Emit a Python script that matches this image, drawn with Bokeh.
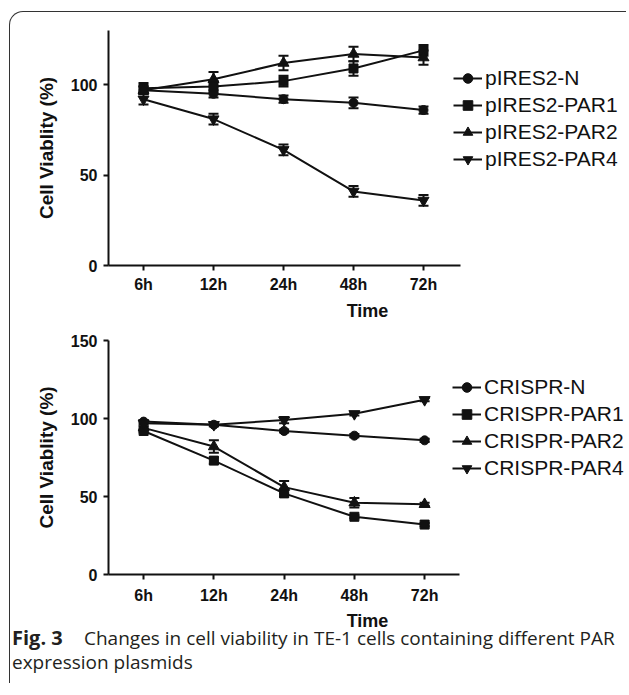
from bokeh.plotting import figure
from bokeh.layouts import column
from bokeh.models import (Range1d, FixedTicker, Whisker, TeeHead, ColumnDataSource,
                          Legend, LegendItem, Div)
from bokeh.embed import file_html
from bokeh.resources import INLINE

# ---------------- data ----------------
times = ["6h", "12h", "24h", "48h", "72h"]
xpos = [1, 2, 3, 4, 5]

pires_labels = ["pIRES2-N", "pIRES2-PAR1", "pIRES2-PAR2", "pIRES2-PAR4"]
pires_n = [97, 95, 92, 90, 86]
pires_par1 = [98, 99, 102, 109, 119]
pires_par2 = [97, 103, 112, 117, 115]
pires_par4 = [92, 81, 64, 41, 36]
pires_n_err = [2, 2, 2, 3, 2]
pires_par1_err = [3, 3, 3, 4, 3]
pires_par2_err = [2, 4, 4, 4, 4]
pires_par4_err = [3, 3, 3, 3, 3]

crispr_labels = ["CRISPR-N", "CRISPR-PAR1", "CRISPR-PAR2", "CRISPR-PAR4"]
crispr_n = [98, 96, 92, 89, 86]
crispr_par1 = [92, 73, 52, 37, 32]
crispr_par2 = [94, 82, 56, 46, 45]
crispr_par4 = [97, 96, 99, 103, 112]
crispr_n_err = [1, 1, 1, 1, 1]
crispr_par1_err = [1, 2, 2, 1, 1]
crispr_par2_err = [1, 4, 4, 3, 1]
crispr_par4_err = [1, 1, 2, 1, 1]

top_yticks = [0, 50, 100]
bottom_yticks = [0, 50, 100, 150]

caption_bold = "Fig. 3"
caption_line1 = "Changes in cell viability in TE-1 cells containing different PAR"
caption_line2 = "expression plasmids"

markers = ["circle", "square", "triangle", "inverted_triangle"]
msizes = [9, 9, 11, 11]
FONT = "Liberation Sans"
INK = "#111111"
W = 616
LEFT = 98


def style_axes(p, yticks, xbound_end, ybound_end, ylabel, xlab_standoff, xtitle_standoff):
    xa = p.xaxis[0]
    ya = p.yaxis[0]
    xa.ticker = FixedTicker(ticks=xpos)
    xa.major_label_overrides = {x: t for x, t in zip(xpos, times)}
    xa.bounds = (0.5, xbound_end)
    xa.axis_label = "Time"
    xa.axis_label_standoff = xtitle_standoff
    xa.major_label_standoff = xlab_standoff
    ya.ticker = FixedTicker(ticks=yticks)
    ya.bounds = (0, ybound_end)
    ya.axis_label = ylabel
    ya.axis_label_standoff = 11
    ya.major_label_standoff = 6
    for ax in (xa, ya):
        ax.axis_line_width = 2
        ax.axis_line_color = INK
        ax.major_tick_line_width = 2
        ax.major_tick_line_color = INK
        ax.major_tick_out = 5
        ax.major_tick_in = 0
        ax.minor_tick_line_color = None
        ax.major_label_text_font = FONT
        ax.major_label_text_font_style = "bold"
        ax.major_label_text_font_size = "16px"
        ax.major_label_text_color = INK
        ax.axis_label_text_font = FONT
        ax.axis_label_text_font_style = "bold"
        ax.axis_label_text_color = INK
    xa.axis_label_text_font_size = "18px"
    ya.axis_label_text_font_size = "19px"
    p.grid.visible = False
    p.outline_line_color = None
    p.background_fill_color = None
    p.border_fill_color = None


def add_series(p, series, errs, labels):
    items = []
    for vals, err, lab, mk, ms in zip(series, errs, labels, markers, msizes):
        src = ColumnDataSource(dict(x=xpos, y=vals,
                                    upper=[v + e for v, e in zip(vals, err)],
                                    lower=[v - e for v, e in zip(vals, err)]))
        p.add_layout(Whisker(source=src, base="x", upper="upper", lower="lower",
                             line_width=2, line_color=INK,
                             upper_head=TeeHead(size=10, line_width=2, line_color=INK),
                             lower_head=TeeHead(size=10, line_width=2, line_color=INK)))
        lr = p.line("x", "y", source=src, line_width=2, line_color=INK)
        sr = p.scatter("x", "y", source=src, marker=mk, size=ms,
                       fill_color=INK, line_color=INK)
        items.append(LegendItem(label=lab, renderers=[lr, sr]))
    return items


def make_legend(items, loc):
    return Legend(items=items, location=loc, label_text_font=FONT,
                  label_text_font_size="21px", label_text_color=INK,
                  glyph_width=29, glyph_height=24, label_height=24,
                  label_standoff=3, spacing=3, padding=0, margin=0,
                  border_line_color=None, background_fill_alpha=0)


# ---------------- top panel ----------------
p1 = figure(width=W, height=312, output_backend="svg", toolbar_location=None,
            x_range=Range1d(0.5, 0.5 + (W - LEFT) / 70.0), y_range=Range1d(0, 130),
            min_border_left=LEFT, min_border_right=0, min_border_top=18,
            min_border_bottom=59)
style_axes(p1, top_yticks, 5.53, 130, "Cell Viablity (%)", 5, 5)
items1 = add_series(p1, [pires_n, pires_par1, pires_par2, pires_par4],
                    [pires_n_err, pires_par1_err, pires_par2_err, pires_par4_err],
                    pires_labels)
p1.add_layout(make_legend(items1, (345, 94)))

# ---------------- bottom panel ----------------
p2 = figure(width=W, height=309, output_backend="svg", toolbar_location=None,
            x_range=Range1d(0.5, 0.5 + (W - LEFT) / 70.25), y_range=Range1d(0, 150),
            min_border_left=LEFT, min_border_right=0, min_border_top=16,
            min_border_bottom=58)
style_axes(p2, bottom_yticks, 5.5, 150, "Cell Viablity (%)", 7, 4)
items2 = add_series(p2, [crispr_n, crispr_par1, crispr_par2, crispr_par4],
                    [crispr_n_err, crispr_par1_err, crispr_par2_err, crispr_par4_err],
                    crispr_labels)
p2.add_layout(make_legend(items2, (344, 94)))

# ---------------- caption ----------------
cap_html = (
    '<div style="margin-top:-7px;padding-left:2px;font-family:\'Open Sans\';'
    'font-size:19px;line-height:24px;color:#231f20;white-space:nowrap;">'
    '<span style="display:inline-block;width:72px;font-weight:bold;font-size:20px;">'
    + caption_bold + '</span>' + caption_line1 + '<br>' + caption_line2 + '</div>'
)
cap = Div(text=cap_html, width=W, height=50, margin=0)

layout = column(p1, p2, cap, margin=(11, 0, 0, 9),
                styles={"border-left": "1.5px solid #333333",
                        "border-top": "1.5px solid #333333",
                        "border-top-left-radius": "14px"})

open("out.html", "w").write(file_html(layout, INLINE))
